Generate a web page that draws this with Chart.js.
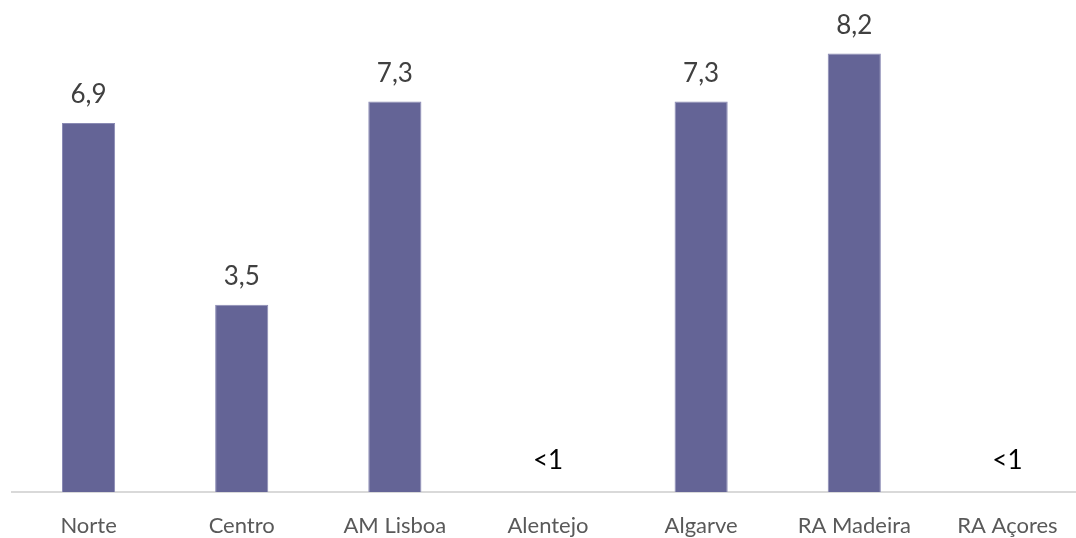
<!DOCTYPE html>
<html>
<head>
<meta charset="utf-8">
<script src="https://cdn.jsdelivr.net/npm/chart.js@4"></script>
<style>
  html, body { margin: 0; padding: 0; background: #fff; overflow: hidden; }
  #wrap { position: relative; width: 1084px; height: 538px; }
</style>
</head>
<body>
<div id="wrap"><canvas id="chart"></canvas></div>
<script>
'use strict';

/* ─── DATA ───────────────────────────────────────────────── */
const regioes = ['Norte', 'Centro', 'AM Lisboa', 'Alentejo', 'Algarve', 'RA Madeira', 'RA Açores'];
const valores = [6.9, 3.5, 7.3, null, 7.3, 8.2, null];
const rotulos = ['6,9', '3,5', '7,3', '<1', '7,3', '8,2', '<1'];

const FONT = 'Lato, "Open Sans", sans-serif';

/* ─── LABELS PLUGIN ──────────────────────────────────────── */
const valueLabels = {
  id: 'valueLabels',
  afterDatasetsDraw(chart) {
    const { ctx, scales } = chart;
    const meta = chart.getDatasetMeta(0);
    ctx.save();
    ctx.textAlign = 'center';
    ctx.textBaseline = 'middle';
    ctx.font = '26px ' + FONT;
    rotulos.forEach((txt, i) => {
      const x = scales.x.getPixelForValue(i);
      if (valores[i] == null) {
        ctx.fillStyle = '#000000';
        ctx.fillText(txt, x, scales.y.getPixelForValue(0) - 31);
      } else {
        ctx.fillStyle = '#404040';
        ctx.fillText(txt, x, meta.data[i].y - 28);
      }
    });
    ctx.restore();
  },
};

/* ─── CHART ──────────────────────────────────────────────── */
new Chart(document.getElementById('chart'), {
  type: 'bar',
  data: {
    labels: regioes,
    datasets: [{
      data: valores,
      backgroundColor: '#646496',
      borderColor: '#8a8ab4',
      borderWidth: 1,
      barPercentage: 1,
      categoryPercentage: 0.347,
    }],
  },
  options: {
    responsive: true,
    maintainAspectRatio: false,
    animation: false,
    layout: { padding: { left: 12, right: 0, top: 0, bottom: 0 } },
    plugins: {
      legend: { display: false },
      tooltip: { enabled: false },
    },
    scales: {
      x: {
        grid: { display: false, drawTicks: false },
        border: { color: '#d9d9d9', width: 2 },
        ticks: { color: '#595959', font: { family: FONT, size: 22 }, padding: 21, maxRotation: 0 },
        afterFit(scale) { scale.height = 46; },
      },
      y: {
        display: false,
        min: 0,
        max: 9.2,
      },
    },
  },
  plugins: [valueLabels],
});
</script>
</body>
</html>
